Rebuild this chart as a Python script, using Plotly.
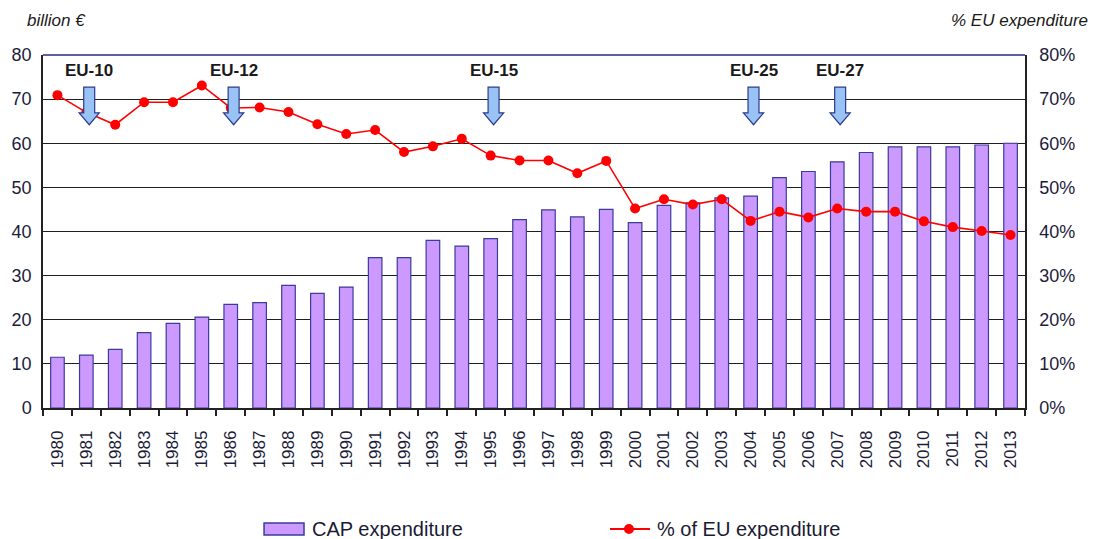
import plotly.graph_objects as go

years = list(range(1980, 2014))
year_labels = [str(y) for y in years]
cap_expenditure = [11.5, 12.0, 13.3, 17.1, 19.2, 20.6, 23.5, 23.9, 27.8, 26.0,
                   27.4, 34.1, 34.1, 38.0, 36.7, 38.4, 42.7, 44.9, 43.3, 45.0,
                   42.0, 45.9, 46.5, 47.6, 48.0, 52.2, 53.6, 55.8, 57.9, 59.2,
                   59.2, 59.2, 59.6, 60.0]
pct_eu = [70.9, 67.0, 64.2, 69.3, 69.3, 73.1, 68.0, 68.1, 67.1, 64.3,
          62.1, 63.0, 58.0, 59.3, 61.0, 57.2, 56.1, 56.1, 53.2, 56.0,
          45.2, 47.3, 46.1, 47.3, 42.4, 44.5, 43.2, 45.2, 44.5, 44.5,
          42.3, 41.0, 40.1, 39.2]
enlargement_years = [1981, 1986, 1995, 2004, 2007]
enlargement_labels = ["EU-10", "EU-12", "EU-15", "EU-25", "EU-27"]
left_ticks = [0, 10, 20, 30, 40, 50, 60, 70, 80]
right_ticks = [0, 0.1, 0.2, 0.3, 0.4, 0.5, 0.6, 0.7, 0.8]
series_names = ["CAP expenditure", "% of EU expenditure"]

FONT = "Arial, Liberation Sans, sans-serif"
TICKCOL = "#1c1c3a"
BAR_FILL = "#cc99ff"
BAR_LINE = "#3b3b9a"
RED = "#ff0000"

fig = go.Figure()
fig.add_trace(go.Bar(
    x=years, y=cap_expenditure, name=series_names[0],
    marker=dict(color=BAR_FILL, line=dict(color=BAR_LINE, width=1.2)),
    width=0.47, showlegend=False,
))
fig.add_trace(go.Scatter(
    x=years, y=[p / 100 for p in pct_eu], name=series_names[1],
    yaxis="y2", mode="lines+markers",
    line=dict(color=RED, width=1.6),
    marker=dict(color=RED, size=10), showlegend=False,
))

# enlargement arrows (block arrows) and labels
shaft_half = 0.19
head_half = 0.35
y_top, y_neck, y_tip = 72.7, 66.9, 64.2
for yr, lab in zip(enlargement_years, enlargement_labels):
    xc = yr + 0.1
    path = (f"M {xc - shaft_half} {y_top} L {xc + shaft_half} {y_top} "
            f"L {xc + shaft_half} {y_neck} L {xc + head_half} {y_neck} "
            f"L {xc} {y_tip} L {xc - head_half} {y_neck} "
            f"L {xc - shaft_half} {y_neck} Z")
    fig.add_shape(type="path", path=path, xref="x", yref="y",
                  fillcolor="#99c2f5", line=dict(color="#2b3a8c", width=1.2),
                  layer="above")
    fig.add_annotation(x=xc, y=76.6, xref="x", yref="y", text=f"<b>{lab}</b>",
                       showarrow=False, xanchor="center", yanchor="middle",
                       font=dict(family=FONT, size=17, color="#1a1a1a"))

# top border (navy)
fig.add_shape(type="line", xref="paper", yref="paper", x0=0, x1=1, y0=1, y1=1,
              line=dict(color="#2a2a8a", width=1.5), layer="above")

fig.add_annotation(xref="paper", yref="paper", x=-0.018, y=1.099,
                   text="<i>billion €</i>", showarrow=False,
                   xanchor="left", yanchor="middle",
                   font=dict(family=FONT, size=17, color="#1a1a1a"))
fig.add_annotation(xref="paper", yref="paper", x=1.066, y=1.099,
                   text="<i>% EU expenditure</i>", showarrow=False,
                   xanchor="right", yanchor="middle",
                   font=dict(family=FONT, size=17, color="#1a1a1a"))

# manual legend (below the plot)
leg_y = -0.3428
fig.add_shape(type="rect", xref="paper", yref="paper",
              x0=0.2251, x1=0.2658, y0=-0.3598, y1=-0.3258,
              fillcolor=BAR_FILL, line=dict(color=BAR_LINE, width=1.5))
fig.add_annotation(xref="paper", yref="paper", x=0.2719, y=leg_y,
                   text=series_names[0], showarrow=False,
                   xanchor="left", yanchor="middle",
                   font=dict(family=FONT, size=20, color="#1a1a33"))
fig.add_shape(type="line", xref="paper", yref="paper",
              x0=0.5774, x1=0.6181, y0=leg_y, y1=leg_y,
              line=dict(color=RED, width=2))
fig.add_shape(type="circle", xref="paper", yref="paper",
              x0=0.5967 - 0.0051, x1=0.5967 + 0.0051,
              y0=leg_y - 0.0142, y1=leg_y + 0.0142,
              fillcolor=RED, line=dict(color=RED, width=0))
fig.add_annotation(xref="paper", yref="paper", x=0.6232, y=leg_y,
                   text=series_names[1], showarrow=False,
                   xanchor="left", yanchor="middle",
                   font=dict(family=FONT, size=20, color="#1a1a33"))

fig.update_layout(
    width=1093, height=539,
    margin=dict(l=43, r=68, t=55, b=131),
    paper_bgcolor="white", plot_bgcolor="white",
    font=dict(family=FONT, size=17, color=TICKCOL),
    bargap=0.5,
    showlegend=False,
    xaxis=dict(
        range=[1979.5, 2013.5],
        tickmode="array", tickvals=years, ticktext=year_labels,
        tickangle=-90, ticks="", showgrid=False, ticklabelstandoff=14,
        showline=True, linecolor="#222222", linewidth=1.5,
        tickfont=dict(family=FONT, size=17, color=TICKCOL),
        minor=dict(ticks="outside", tickmode="linear", tick0=1979.5, dtick=1,
                   ticklen=6, tickcolor="#222222", tickwidth=1.5, showgrid=False),
        zeroline=False, automargin=False,
    ),
    yaxis=dict(
        range=[0, 80], tickmode="array", tickvals=left_ticks,
        showgrid=True, gridcolor="#1e1e1e", gridwidth=1.3,
        showline=True, linecolor="#222222", linewidth=1.5,
        ticks="", zeroline=False, automargin=False, ticklabelstandoff=6,
        tickfont=dict(family=FONT, size=18, color=TICKCOL),
    ),
    yaxis2=dict(
        range=[0, 0.8], tickmode="array", tickvals=right_ticks,
        tickformat=".0%", overlaying="y", side="right",
        showgrid=False, showline=True, linecolor="#222222", linewidth=1.5,
        ticks="", zeroline=False, automargin=False, ticklabelstandoff=9,
        tickfont=dict(family=FONT, size=18, color=TICKCOL),
    ),
)

fig.write_html("out.html", config={"displayModeBar": False},
               post_script="document.body.style.margin='0px';")
